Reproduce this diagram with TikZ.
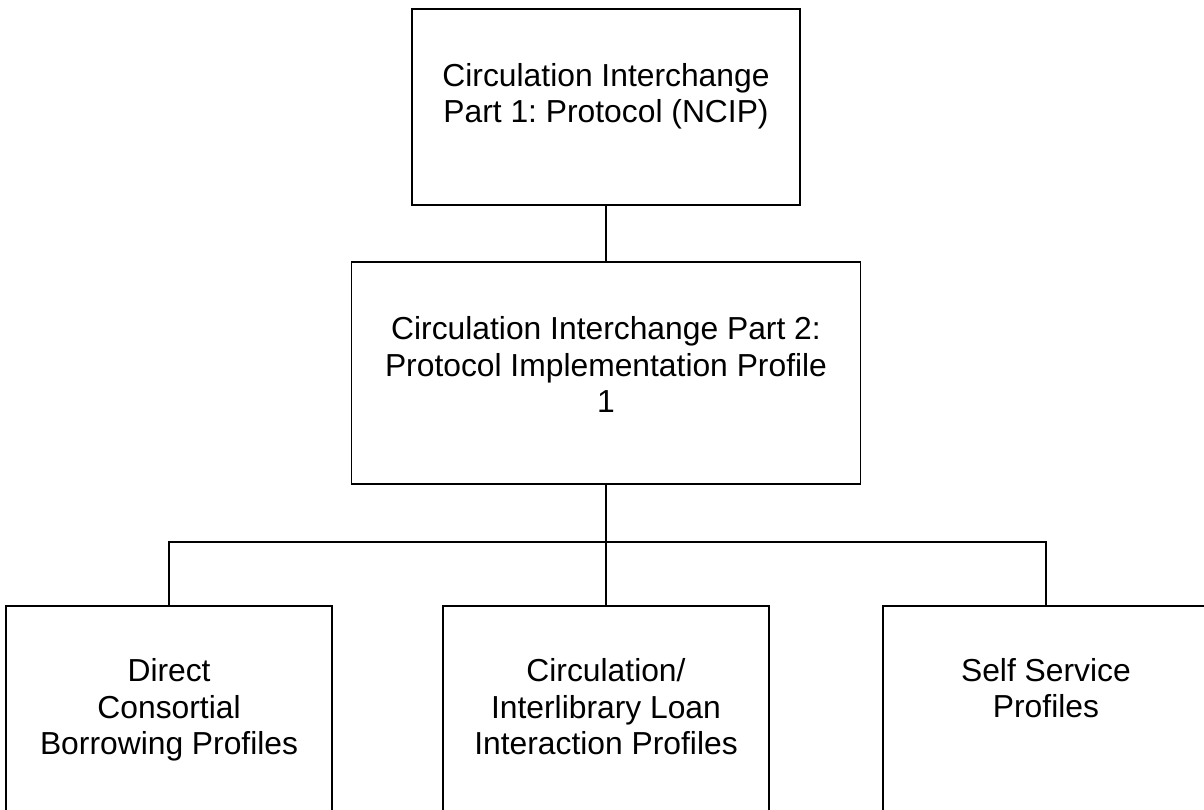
\documentclass[tikz,border=0pt]{standalone}
\usepackage{fontspec}
\setmainfont{Liberation Sans}
\frenchspacing
\usetikzlibrary{positioning}

\begin{document}
\begin{tikzpicture}[
        node distance=1.1cm,
        line width=1.1pt,
        box/.style={rectangle, draw, align=center, inner sep=0pt, font=\fontsize{18.1}{20.8}\selectfont},
        profile/.style={box, minimum width=6.52cm, text height=2.98cm, text depth=1.6cm}
    ]
        \useasboundingbox (0,0) rectangle (24.08,-16.2);
        \clip (0,0) rectangle (24.08,-16.2);

        \node[box, minimum width=7.76cm, text height=2.28cm, text depth=1.64cm, anchor=north] (part1) at (12.12,-0.16) {Circulation Interchange\\Part 1: Protocol (NCIP)};
        \node[box, minimum width=10.18cm, text height=3.02cm, text depth=1.42cm, below=1.1cm of part1] (part2) {Circulation Interchange Part 2:\\Protocol Implementation Profile\\1};
        \node[profile, below=2.4cm of part2] (ill) {Circulation/\\Interlibrary Loan\\Interaction Profiles};
        \node[profile, left=2.18cm of ill] (dcb) {Direct\\Consortial\\Borrowing Profiles};
        \node[profile, text height=2.24cm, text depth=2.34cm, right=2.24cm of ill] (self) {Self Service\\Profiles};

        \draw (part1) -- (part2);
        \draw (part2) -- (ill);
        \draw (dcb.north) -- ++(0,1.26) -| (self.north);
    \end{tikzpicture}
\end{document}
